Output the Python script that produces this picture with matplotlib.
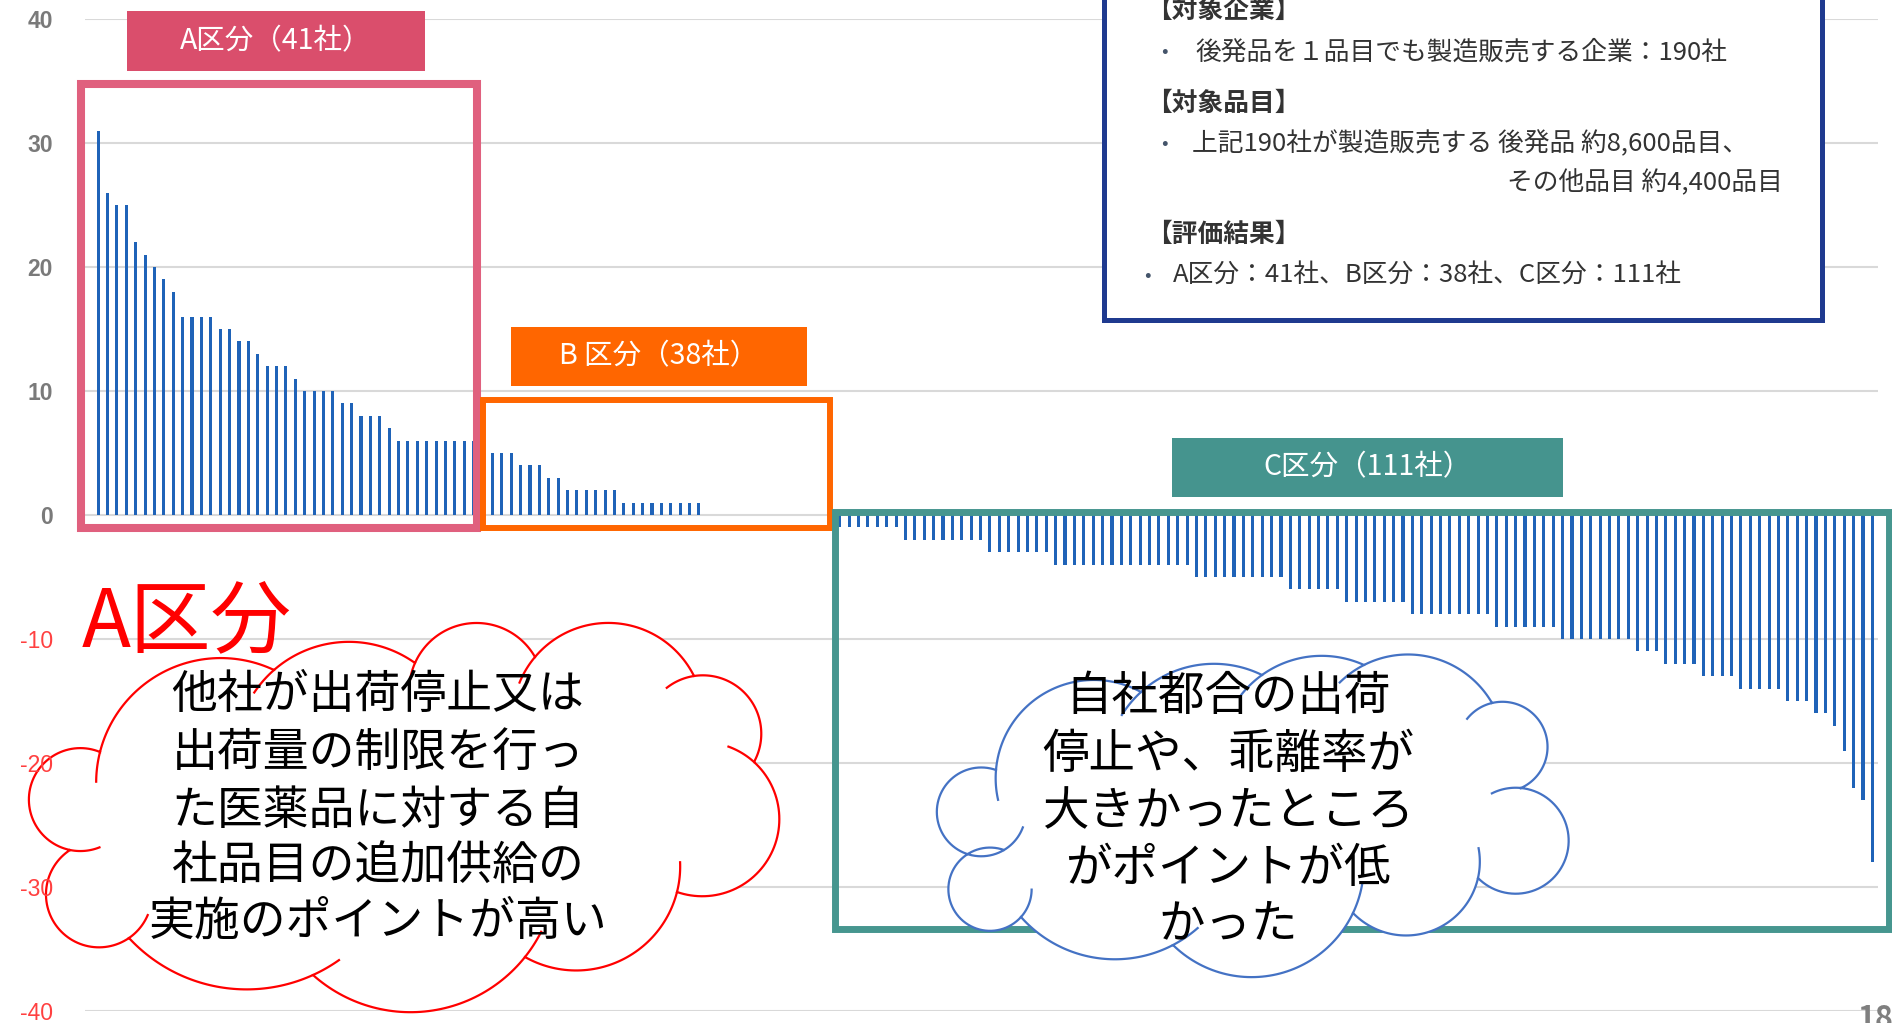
import numpy as np
import matplotlib.pyplot as plt
from matplotlib.patches import Rectangle, Polygon

plt.rcParams['font.family'] = ['Noto Sans CJK JP', 'DejaVu Sans']

# scores of the 190 companies, sorted high -> low
a_scores = [31, 26, 25, 25, 22, 21, 20, 19, 18, 16, 16, 16, 16, 15, 15, 14, 14, 13,
            12, 12, 12, 11, 10, 10, 10, 10, 9, 9, 8, 8, 8, 7,
            6, 6, 6, 6, 6, 6, 6, 6, 6]
b_scores = [5, 5, 5, 5, 4, 4, 4, 3, 3, 2, 2, 2, 2, 2, 2,
            1, 1, 1, 1, 1, 1, 1, 1, 1,
            0, 0, 0, 0, 0, 0, 0, 0, 0, 0, 0, 0, 0, 0]
c_scores = [-1, -1, -1, -1, -1, -1, -1,
            -2, -2, -2, -2, -2, -2, -2, -2, -2,
            -3, -3, -3, -3, -3, -3, -3,
            -4, -4, -4, -4, -4, -4, -4, -4, -4, -4, -4, -4, -4, -4, -4,
            -5, -5, -5, -5, -5, -5, -5, -5, -5, -5,
            -6, -6, -6, -6, -6, -6,
            -7, -7, -7, -7, -7, -7, -7,
            -8, -8, -8, -8, -8, -8, -8, -8, -8,
            -9, -9, -9, -9, -9, -9, -9,
            -10, -10, -10, -10, -10, -10, -10, -10,
            -11, -11, -11,
            -12, -12, -12, -12,
            -13, -13, -13, -13,
            -14, -14, -14, -14, -14,
            -15, -15, -15,
            -16, -16, -17, -19, -22, -23, -28]
y_ticks = [40, 30, 20, 10, 0, -10, -20, -30, -40]

group_labels = ['A区分（41社）', 'B 区分（38社）', 'C区分（111社）']
red_text = ['他社が出荷停止又は', '出荷量の制限を行っ', 'た医薬品に対する自',
            '社品目の追加供給の', '実施のポイントが高い']
blue_text = ['自社都合の出荷', '停止や、乖離率が', '大きかったところ',
             'がポイントが低', 'かった']

scores = a_scores + b_scores + c_scores
x = np.arange(len(scores))

W, H = 1892, 1023
rect = [85 / W, 1 - 1011 / H, (1878 - 85) / W, (1011 - 19) / H]
fig = plt.figure(figsize=(W / 100, H / 100), dpi=100)
ax = fig.add_axes(rect)
ax.bar(x, scores, width=0.33, color='#1F63B8', zorder=2)
ax.set_xlim(-1.4, 189.6)
ax.set_ylim(-40, 40)
ax.set_xticks([])
ax.set_yticks(y_ticks)
ax.grid(axis='y', color='#D9D9D9', lw=1.5)
ax.set_axisbelow(True)
ax.tick_params(axis='y', length=0, labelleft=False)
for s in ax.spines.values():
    s.set_visible(False)

# overlay in pixel coords for the slide decorations
ov = fig.add_axes([0, 0, 1, 1])
ov.set_xlim(0, W)
ov.set_ylim(H, 0)
ov.axis('off')
ov.patch.set_alpha(0)

# y tick labels sit on top of everything (the cloud does not hide them)
lab = fig.add_axes(rect, zorder=5)
lab.set_ylim(-40, 40)
lab.set_xticks([])
lab.set_yticks(y_ticks)
lab.set_yticklabels([str(t) for t in y_ticks])
lab.patch.set_alpha(0)
for s in lab.spines.values():
    s.set_visible(False)
lab.tick_params(axis='y', length=0, pad=23, labelsize=16.5)
for t, tl in zip(y_ticks, lab.get_yticklabels()):
    tl.set_fontfamily('Liberation Sans')
    if t < 0:
        tl.set_color('#FF4040')
    else:
        tl.set_color('#7A7A7A')
        tl.set_fontweight('bold')


def frame(x0, y0, x1, y1, color, lw, z=3):
    ov.add_patch(Rectangle((x0, y0), x1 - x0, y1 - y0, fill=False, ec=color, lw=lw, zorder=z))


def label_box(x0, y0, x1, y1, color, text):
    ov.add_patch(Rectangle((x0, y0), x1 - x0, y1 - y0, fc=color, ec='none', zorder=4))
    ov.text((x0 + x1) / 2, (y0 + y1) / 2, text, color='white', fontsize=20.5,
            ha='center', va='center', zorder=5)


frame(81, 84, 477, 527.5, '#E0607E', 5.8)
frame(483, 400, 830, 528, '#FF6600', 4.3)
frame(835, 512, 1889, 929, '#46968F', 5.0)
label_box(127, 11, 425, 71, '#DA4E6C', group_labels[0])
label_box(511, 327, 807, 386, '#FF6600', group_labels[1])
label_box(1172, 438, 1563, 497, '#45948E', group_labels[2])

# info box top right
ov.add_patch(Rectangle((1104, -20), 718, 340, fc='white', ec='#1F3A8F', lw=3.6, zorder=4))
txt = '#333333'
ov.text(1146, 10, '【対象企業】', fontsize=18.5, fontweight='bold', color=txt, va='center', zorder=5)
ov.text(1161, 52, '•', fontsize=14, color='#44546A', va='center', zorder=5)
ov.text(1195, 52, '後発品を１品目でも製造販売する企業：190社', fontsize=18.5, color=txt, va='center', zorder=5)
ov.text(1146, 103, '【対象品目】', fontsize=18.5, fontweight='bold', color=txt, va='center', zorder=5)
ov.text(1161, 144, '•', fontsize=14, color='#44546A', va='center', zorder=5)
ov.text(1192, 144, '上記190社が製造販売する 後発品 約8,600品目、', fontsize=18.5, color=txt, va='center', zorder=5)
ov.text(1783, 183, 'その他品目 約4,400品目', fontsize=18.5, color=txt, va='center', ha='right', zorder=5)
ov.text(1146, 234, '【評価結果】', fontsize=18.5, fontweight='bold', color=txt, va='center', zorder=5)
ov.text(1144, 275, '•', fontsize=14, color='#44546A', va='center', zorder=5)
ov.text(1173, 275, 'A区分：41社、B区分：38社、C区分：111社', fontsize=18.5, color=txt, va='center', zorder=5)


def circ3(p1, p2, p3):
    (x1, y1), (x2, y2), (x3, y3) = p1, p2, p3
    d = 2 * (x1 * (y2 - y3) + x2 * (y3 - y1) + x3 * (y1 - y2))
    ux = ((x1**2 + y1**2) * (y2 - y3) + (x2**2 + y2**2) * (y3 - y1) + (x3**2 + y3**2) * (y1 - y2)) / d
    uy = ((x1**2 + y1**2) * (x3 - x2) + (x2**2 + y2**2) * (x1 - x3) + (x3**2 + y3**2) * (x2 - x1)) / d
    return ux, uy, np.hypot(x1 - ux, y1 - uy)


def cloud(bumps, color, z=6):
    # bumps: (start valley, peak, end valley), arcs joined into one outline
    pts = []
    creases = []
    for p1, pk, p2 in bumps:
        cx, cy, r = circ3(p1, pk, p2)
        t1 = np.arctan2(p1[1] - cy, p1[0] - cx)
        tk = np.arctan2(pk[1] - cy, pk[0] - cx)
        t2 = np.arctan2(p2[1] - cy, p2[0] - cx)
        dt = (t2 - t1) % (2 * np.pi)
        if (tk - t1) % (2 * np.pi) > dt:
            dt -= 2 * np.pi
        t = t1 + np.linspace(0, dt, 60)
        pts.append(np.c_[cx + r * np.cos(t), cy + r * np.sin(t)])
        te = t1 + dt + np.sign(dt) * np.linspace(0, 30 / r, 15)
        creases.append((cx + r * np.cos(te), cy + r * np.sin(te)))
    ov.add_patch(Polygon(np.vstack(pts), closed=True, fc='white', ec=color, lw=1.6, zorder=z))
    for cx_, cy_ in creases:
        ov.plot(cx_, cy_, color=color, lw=1.6, zorder=z + 0.1)


red_bumps = [((274, 670), (172, 668), (100, 752)),
             ((100, 752), (29, 803), (70, 850)),
             ((70, 850), (46, 893), (129, 938)),
             ((129, 938), (219, 987), (313, 975)),
             ((313, 975), (418, 1012), (525, 957)),
             ((525, 957), (642, 947), (677, 892)),
             ((677, 892), (779, 812), (754, 762)),
             ((754, 762), (761, 728), (694, 676)),
             ((694, 676), (612, 623), (535, 657)),
             ((535, 657), (478, 623), (415, 663)),
             ((415, 663), (343, 642), (274, 670))]
blue_bumps = [((1141, 692), (1060, 686), (996, 770)),
              ((996, 770), (937, 808), (1004, 850)),
              ((1004, 850), (949, 882), (1021, 917)),
              ((1021, 917), (1097, 958), (1173, 945)),
              ((1173, 945), (1257, 977), (1353, 913)),
              ((1353, 913), (1425, 933), (1478, 878)),
              ((1478, 878), (1562, 815), (1521, 788)),
              ((1521, 788), (1547, 740), (1492, 703)),
              ((1492, 703), (1425, 656), (1364, 665)),
              ((1364, 665), (1316, 656), (1262, 675)),
              ((1262, 675), (1198, 665), (1141, 692))]
cloud(red_bumps, '#FF0000')
cloud(blue_bumps, '#4472C4')

for line, yy in zip(red_text, [695, 753, 811, 866, 922]):
    ov.text(378, yy, line, fontsize=33, ha='center', va='center', color='black', zorder=8)
for line, yy in zip(blue_text, [697, 755, 812, 869, 924]):
    ov.text(1228, yy, line, fontsize=33.5, ha='center', va='center', color='black', zorder=8)

ov.text(82, 623, 'A区分', fontsize=58, color='#FF0000', ha='left', va='center', zorder=9)
ov.text(1857, 1003, '18', fontsize=22, fontweight='bold', color='#7F7F7F', ha='left', va='top', zorder=9)

fig.savefig('out.png', dpi=100)
